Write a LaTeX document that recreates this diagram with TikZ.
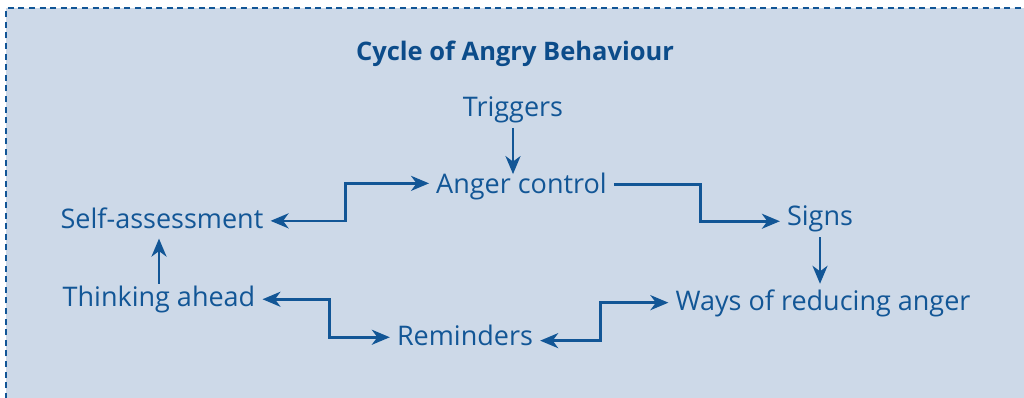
\documentclass[tikz,border=0pt]{standalone}
\usepackage{fontspec}
\setmainfont{Open Sans}
\usetikzlibrary{arrows.meta}
\definecolor{ink}{RGB}{18,86,150}
\definecolor{titleink}{RGB}{12,76,138}
\definecolor{panel}{RGB}{205,217,232}
\begin{document}
\begin{tikzpicture}[x=1pt,y=-1pt,
  lbl/.style={anchor=base,inner xsep=7pt,inner ysep=0pt,text height=18.5pt,text depth=0pt,
    text=ink,font=\fontsize{27}{30}\selectfont},
  ttl/.style={anchor=base,inner sep=0pt,text=titleink,font=\fontsize{25.5}{30}\selectfont\bfseries},
  conn/.style={draw=ink,line width=2.6pt},
  tip/.style={-{Stealth[length=18pt,width=15pt,inset=5.5pt]}},
  dtip/.style={{Stealth[length=18pt,width=15pt,inset=5.5pt]}-{Stealth[length=18pt,width=15pt,inset=5.5pt]}}]
\useasboundingbox (0,0) rectangle (1024,397);
\clip (0,0) rectangle (1024,397);
\fill[panel] (6,8.3) rectangle (1040,420);
\draw[ink,line width=2.3pt,dash pattern=on 6pt off 4.6pt] (6,420) -- (6,8.3) -- (1040,8.3);
% nodes
\node[ttl] (title) at (515,60) {Cycle of Angry Behaviour};
\node[lbl] (trig) at (513,116) {Triggers};
\node[lbl] (ac)   at (521.5,193.5) {Anger control};
\node[lbl] (sa)   at (162,228.4) {Self-assessment};
\node[lbl] (signs) at (820,225) {Signs};
\node[lbl] (ta)   at (159,306.7) {Thinking ahead};
\node[lbl] (ways) at (823,310.7) {Ways of reducing anger};
\node[lbl] (rem)  at (465,345.7) {Reminders};
% corner columns
\coordinate (k1) at (345.7,0);
\coordinate (k2) at (700.7,0);
\coordinate (k3) at (329.3,0);
\coordinate (k4) at (600.7,0);
% connectors
\draw[conn,tip] ([yshift=-11.7pt]trig.south) -- ([yshift=0.7pt]trig.south |- ac.north);
\draw[conn,dtip] ([yshift=-1.7pt]sa.east) -- ([yshift=-1.7pt]sa.east -| k1) -- ([yshift=0.9pt]k1 |- ac.west) -- ([yshift=0.9pt]ac.west);
\draw[conn,tip] (ac.east) -- (ac.east -| k2) -- ([yshift=-5.5pt]k2 |- signs.west) -- ([yshift=-5.5pt]signs.west);
\draw[conn,tip] ([yshift=-12pt]signs.south) -- ([yshift=8.2pt]signs.south |- ways.north);
\draw[conn,tip] ([yshift=4.2pt]ta.north) -- ([yshift=-10pt]ta.north |- sa.south);
\draw[conn,dtip] ([yshift=-1.8pt]ta.east) -- ([yshift=-1.8pt]ta.east -| k3) -- ([yshift=-0.8pt]k3 |- rem.west) -- ([yshift=-0.8pt]rem.west);
\draw[conn,dtip] ([yshift=-4.2pt]rem.east) -- ([yshift=-4.2pt]rem.east -| k4) -- ([yshift=-1.2pt]k4 |- ways.west) -- ([yshift=-1.2pt]ways.west);
\end{tikzpicture}
\end{document}
